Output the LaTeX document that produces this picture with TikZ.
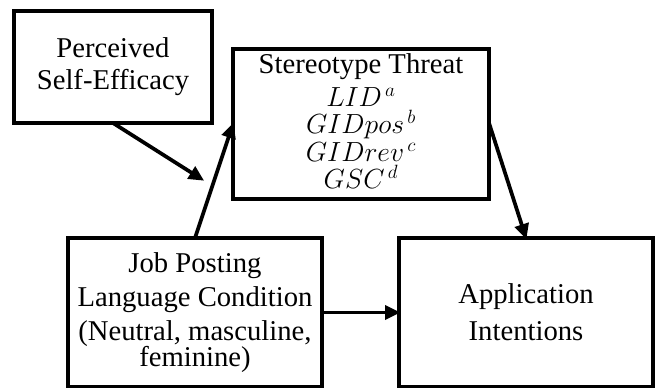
\documentclass[tikz,border=0pt]{standalone}
\usepackage{fontspec}
\setmainfont{Liberation Serif}
\usetikzlibrary{arrows.meta}
\begin{document}
\begin{tikzpicture}[x=0.75pt,y=-0.75pt,
  box/.style={draw,line width=2.8pt,rectangle,inner sep=0pt,outer sep=0pt,align=center,
    font=\fontsize{21.5}{24}\selectfont},
  conn/.style={line width=2.8pt,-{Triangle[length=11.5pt,width=10.5pt]},shorten >=-1pt}]
\useasboundingbox (0,0) rectangle (656,388);
\node[box,minimum width=148.5pt,minimum height=84pt] (pse) at (113,67)
  {Perceived\\Self-Efficacy};
\node[box,minimum width=192pt,minimum height=112.5pt] (st) at (361,124)
  {Stereotype Threat\\[0.5pt]
   $LID^{\,a}$\\[-3.5pt] $GIDpos^{\,b}$\\[-3.5pt] $GIDrev^{\,c}$\\[-3.5pt] $GSC^{\,d}$\\[-20pt]\mbox{}};
\node[box,minimum width=190.5pt,minimum height=111.75pt,font=\fontsize{21.5}{25.5}\selectfont] (jpl) at (195,312.5)
  {Job Posting\\Language Condition\\(Neutral, masculine,\\[-6pt]feminine)};
\node[box,minimum width=190.5pt,minimum height=111.75pt,font=\fontsize{21.5}{27.75}\selectfont] (ai) at (526,312.5)
  {Application\\Intentions};
\coordinate (tip) at (203,180);
\draw[conn] (pse.south) -- (tip);
\draw[conn] (jpl.north) -- (st.west);
\draw[conn] ([yshift=0.75pt]st.east) -- (ai.north);
\draw[conn] (jpl.east) -- (ai.west);
\end{tikzpicture}
\end{document}
